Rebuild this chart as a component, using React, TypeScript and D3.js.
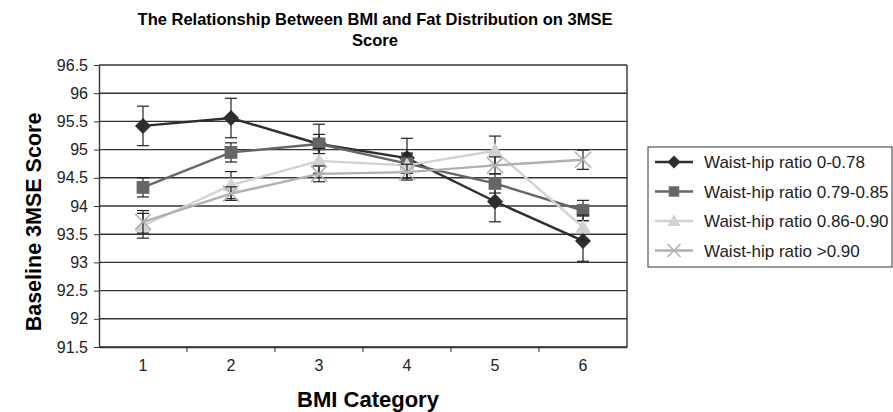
import React, { useEffect, useRef } from 'react';
import * as d3 from 'd3';

const categories = ['1', '2', '3', '4', '5', '6'];
const yTicks = [91.5, 92, 92.5, 93, 93.5, 94, 94.5, 95, 95.5, 96, 96.5];

const seriesNames = [
  'Waist-hip ratio 0-0.78',
  'Waist-hip ratio 0.79-0.85',
  'Waist-hip ratio 0.86-0.90',
  'Waist-hip ratio >0.90',
];
const whr078 = [95.42, 95.56, 95.1, 94.85, 94.08, 93.38];
const whr078Err = [0.35, 0.35, 0.35, 0.35, 0.36, 0.36];
const whr085 = [94.33, 94.95, 95.1, 94.75, 94.4, 93.92];
const whr085Err = [0.17, 0.17, 0.17, 0.17, 0.17, 0.18];
const whr090 = [93.65, 94.37, 94.8, 94.72, 94.98, 93.62];
const whr090Err = [0.22, 0.24, 0.22, 0.22, 0.26, 0.22];
const whrOver = [93.72, 94.22, 94.57, 94.6, 94.72, 94.82];
const whrOverErr = [0.2, 0.12, 0.14, 0.14, 0.15, 0.17];

const colors = ['#2e2e2e', '#666666', '#d2d2d2', '#b0b0b0'];
const symbols = ['diamond', 'square', 'triangle', 'cross'];

const FONT = 'Arial, "Liberation Sans", sans-serif';

const App = () => {
  const svgRef = useRef<SVGSVGElement>(null);

  useEffect(() => {
    const svg = d3.select(svgRef.current);
    svg.selectAll('*').remove();

    const margin = { top: 65, left: 99, right: 627, bottom: 347 };
    const x = d3.scaleBand().domain(categories).range([margin.left, margin.right]);
    const y = d3.scaleLinear().domain([91.5, 96.5]).range([margin.bottom, margin.top]);

    const data = [
      { vals: whr078, err: whr078Err },
      { vals: whr085, err: whr085Err },
      { vals: whr090, err: whr090Err },
      { vals: whrOver, err: whrOverErr },
    ];

    // grid
    svg.append('g')
      .selectAll('line')
      .data(yTicks)
      .join('line')
      .attr('x1', margin.left)
      .attr('x2', margin.right)
      .attr('y1', (d) => y(d))
      .attr('y2', (d) => y(d))
      .attr('stroke', '#333')
      .attr('stroke-width', 1.4);

    svg.append('line')
      .attr('x1', margin.right).attr('x2', margin.right)
      .attr('y1', margin.top).attr('y2', margin.bottom)
      .attr('stroke', '#333').attr('stroke-width', 1.4);

    const yAxis = svg.append('g')
      .attr('transform', `translate(${margin.left},0)`)
      .call(d3.axisLeft(y).tickValues(yTicks).tickSize(5).tickSizeOuter(0).tickFormat((d) => String(d)));
    yAxis.select('.domain').attr('stroke', '#333').attr('stroke-width', 1.4);
    yAxis.selectAll('line').attr('stroke', '#333');
    yAxis.selectAll('text').attr('font-family', FONT).attr('font-size', 16).attr('fill', '#222').attr('dx', -3);

    const xAxis = svg.append('g')
      .attr('transform', `translate(0,${margin.bottom})`)
      .call(d3.axisBottom(x).tickSize(0).tickSizeOuter(0));
    xAxis.select('.domain').attr('stroke', '#333').attr('stroke-width', 1.4);
    xAxis.selectAll('text').attr('font-family', FONT).attr('font-size', 16).attr('fill', '#222').attr('dy', '1.3em');
    // boundary ticks
    svg.append('g')
      .selectAll('line')
      .data(categories.slice(1))
      .join('line')
      .attr('x1', (d) => x(d)!)
      .attr('x2', (d) => x(d)!)
      .attr('y1', margin.bottom)
      .attr('y2', margin.bottom + 5)
      .attr('stroke', '#333');

    const cx = (i: number) => x(categories[i])! + x.bandwidth() / 2;
    const line = d3.line<number>().x((_, i) => cx(i)).y((d) => y(d));

    const drawMarker = (g: any, type: string, color: string, px: number, py: number, s: number) => {
      if (type === 'diamond') {
        g.append('path').attr('d', `M${px},${py - s}L${px + s},${py}L${px},${py + s}L${px - s},${py}Z`).attr('fill', color);
      } else if (type === 'square') {
        g.append('rect').attr('x', px - s * 0.8).attr('y', py - s * 0.8).attr('width', s * 1.6).attr('height', s * 1.6).attr('fill', color);
      } else if (type === 'triangle') {
        g.append('path').attr('d', `M${px},${py - s}L${px + s},${py + s * 0.75}L${px - s},${py + s * 0.75}Z`).attr('fill', color);
      } else {
        g.append('path').attr('d', `M${px - s},${py - s}L${px + s},${py + s}M${px - s},${py + s}L${px + s},${py - s}`)
          .attr('stroke', color).attr('stroke-width', 1.5).attr('fill', 'none');
      }
    };

    data.forEach((s, si) => {
      const g = svg.append('g');
      // error bars
      s.vals.forEach((v, i) => {
        const px = cx(i);
        const top = y(v + s.err[i]);
        const bot = y(v - s.err[i]);
        g.append('line').attr('x1', px).attr('x2', px).attr('y1', top).attr('y2', bot).attr('stroke', '#222').attr('stroke-width', 1.2);
        [top, bot].forEach((yy) => {
          g.append('line').attr('x1', px - 6).attr('x2', px + 6).attr('y1', yy).attr('y2', yy).attr('stroke', '#222').attr('stroke-width', 1.2);
        });
      });
      g.append('path')
        .datum(s.vals)
        .attr('d', line)
        .attr('fill', 'none')
        .attr('stroke', colors[si])
        .attr('stroke-width', 2.4);
      s.vals.forEach((v, i) => drawMarker(g, symbols[si], colors[si], cx(i), y(v), 8));
    });

    // legend
    const lg = svg.append('g');
    lg.append('rect').attr('x', 648).attr('y', 147).attr('width', 244).attr('height', 120)
      .attr('fill', '#fff').attr('stroke', '#333').attr('stroke-width', 1);
    seriesNames.forEach((name, i) => {
      const ly = 162 + i * 29.5;
      lg.append('line').attr('x1', 655).attr('x2', 693).attr('y1', ly).attr('y2', ly)
        .attr('stroke', colors[i]).attr('stroke-width', 2.4);
      drawMarker(lg, symbols[i], colors[i], 674, ly, 6.5);
      lg.append('text').attr('x', 704).attr('y', ly + 6).text(name)
        .attr('font-family', FONT).attr('font-size', 17).attr('fill', '#222');
    });

    // titles
    svg.append('text').attr('x', 375).attr('y', 25).attr('text-anchor', 'middle')
      .attr('font-family', FONT).attr('font-size', 16.5).attr('font-weight', 'bold')
      .text('The Relationship Between BMI and Fat Distribution on 3MSE');
    svg.append('text').attr('x', 375).attr('y', 46).attr('text-anchor', 'middle')
      .attr('font-family', FONT).attr('font-size', 16.5).attr('font-weight', 'bold')
      .text('Score');
    svg.append('text').attr('x', 368).attr('y', 407).attr('text-anchor', 'middle')
      .attr('font-family', FONT).attr('font-size', 22).attr('font-weight', 'bold')
      .text('BMI Category');
    svg.append('text').attr('transform', 'translate(41,222) rotate(-90)').attr('text-anchor', 'middle')
      .attr('font-family', FONT).attr('font-size', 21.5).attr('font-weight', 'bold')
      .text('Baseline 3MSE Score');
  }, []);

  return <svg ref={svgRef} width={893} height={412} style={{ position: 'absolute', left: 0, top: 0, background: '#fff' }} />;
};

export default App;
